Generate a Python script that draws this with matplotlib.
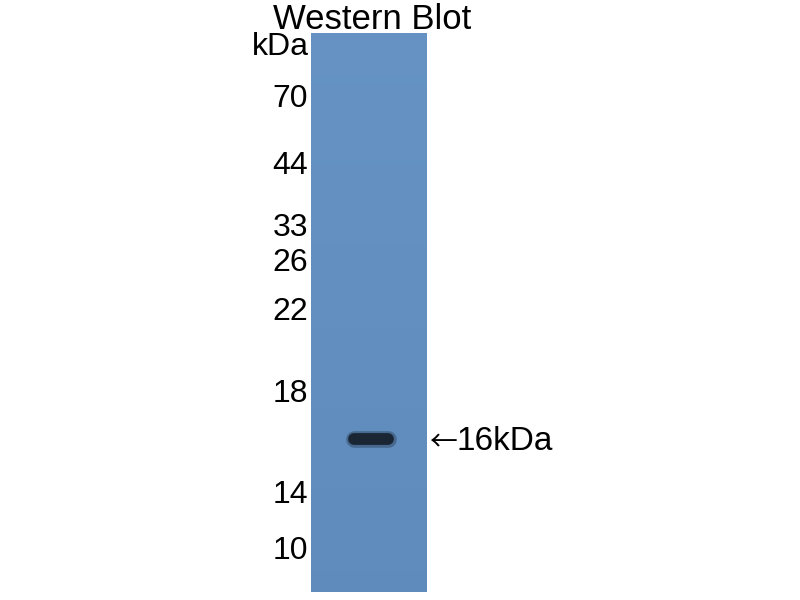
#!/usr/bin/env python

"""
Western blot: single lane with a protein ladder and one band at 16 kDa
"""

import numpy as np
from matplotlib import pyplot as plt

# Ladder markers (kDa) and their relative migration down the lane (0 = top)
marker_kda = ["70", "44", "33", "26", "22", "18", "14", "10"]
marker_rf = [0.111, 0.231, 0.343, 0.406, 0.492, 0.639, 0.820, 0.921]

# Detected band
band_label = "16kDa"
band_rf = 0.726
band_span = [0.37, 0.66]

plt.rcParams["font.family"] = ["Liberation Sans", "DejaVu Sans"]

fig = plt.figure(figsize=(8, 6), dpi=100)
fig.patch.set_facecolor("white")

# Lane axes sits where the gel strip is
ax = fig.add_axes([311 / 800, 8 / 600, 116 / 800, 559 / 600])
ax.set_xlim(0, 1)
ax.set_ylim(1, 0)

# Lane background, a little lighter at the top
top = np.array([0.398, 0.575, 0.765])
bottom = np.array([0.372, 0.548, 0.737])
t = np.linspace(0, 1, 200)[:, None]
grad = top + (bottom - top) * t
ax.imshow(grad[:, None, :].repeat(2, axis=1), extent=[0, 1, 1, 0],
          aspect="auto", interpolation="bilinear", zorder=0)

# Band: soft halo then dark core
ax.plot(band_span, [band_rf, band_rf], color="#2a3f58", lw=12,
        solid_capstyle="round", alpha=0.45, zorder=2)
ax.plot(band_span, [band_rf, band_rf], color="#1a2634", lw=8.5,
        solid_capstyle="round", zorder=3)

# Ladder labels as y tick labels
ax.set_yticks(marker_rf)
ax.set_yticklabels(marker_kda, fontsize=23)
ax.tick_params(axis="y", length=0, pad=2)
ax.set_xticks([])
for side in ax.spines.values():
    side.set_visible(False)

ax.text(-0.02, 0.975, "kDa", transform=ax.transAxes, ha="right",
        va="center", fontsize=23)
ax.text(0.53, 1.025, "Western Blot", transform=ax.transAxes, ha="center",
        va="center", fontsize=25)

# Band label with a long thin arrow pointing at the lane
lbl = ax.get_yaxis_transform()
ax.text(1.02, band_rf + 0.007, "\u2190", ha="left", va="center", fontsize=20,
        family=["Noto Sans CJK JP", "DejaVu Sans"], transform=lbl,
        clip_on=False)
ax.text(1.255, band_rf + 0.004, band_label, ha="left", va="center",
        fontsize=24, transform=lbl, clip_on=False)

fig.savefig("out.png", dpi=100, facecolor="white")
